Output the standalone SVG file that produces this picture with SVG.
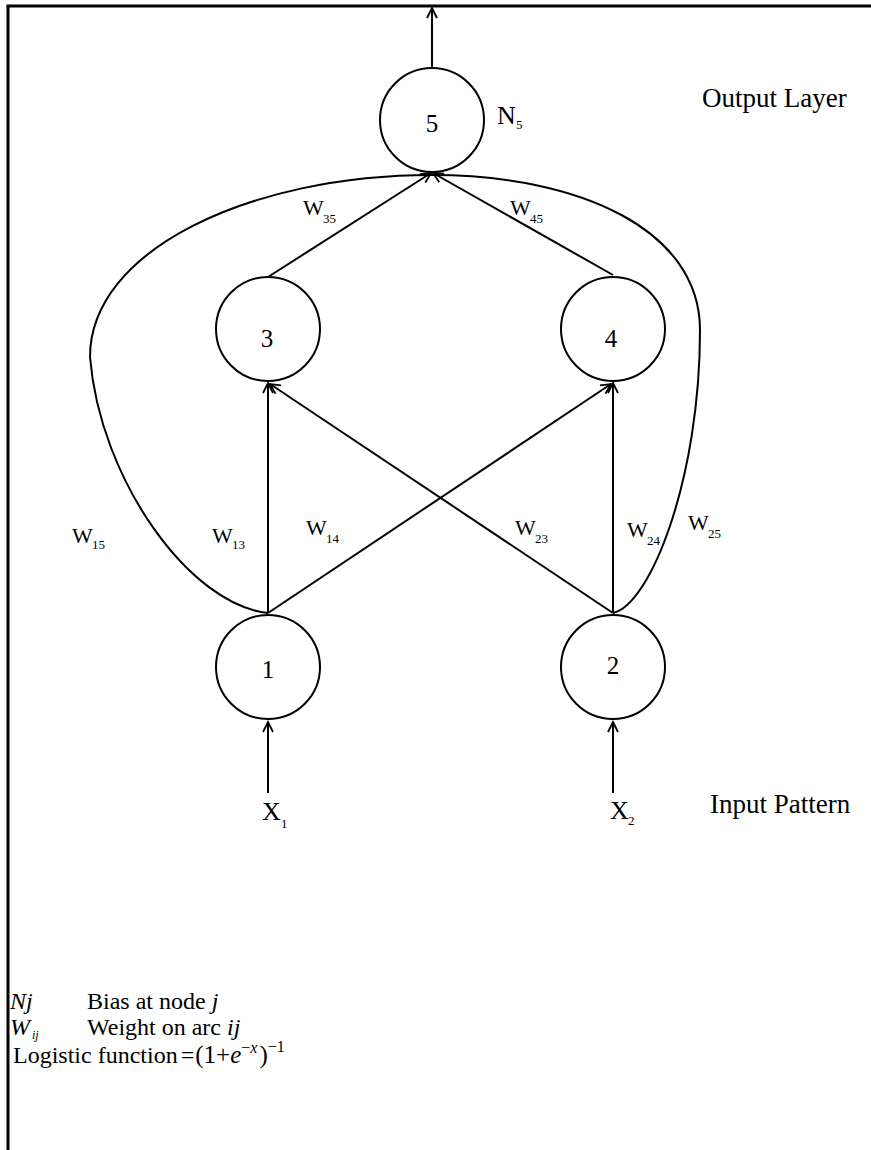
<svg xmlns="http://www.w3.org/2000/svg" width="871" height="1150" viewBox="0 0 871 1150">
<style>
text{font-family:"Liberation Serif","Times New Roman",serif;fill:#000}
.n{font-size:25px;text-anchor:middle}
.w{font-size:22px}
.s{font-size:13px}
.lbl{font-size:27px}
.lg{font-size:24px}
.i{font-style:italic}
circle{fill:#fff;stroke:#000;stroke-width:2}
.c line,.c path{stroke:#000;stroke-width:2;fill:none}
</style>
<defs>
<marker id="ah" markerUnits="userSpaceOnUse" markerWidth="14" markerHeight="14" refX="11" refY="6" orient="auto">
<path d="M1,1 L11,6 L1,11" fill="none" stroke="#000" stroke-width="1.8"/>
</marker>
</defs>
<rect width="871" height="1150" fill="#fff"/>
<g id="frame" stroke="#000" stroke-width="3">
<line x1="8" y1="6" x2="8" y2="1150"/>
<line x1="6.5" y1="6" x2="871" y2="6"/>
</g>
<g class="c" id="connectors">
<line x1="432" y1="68" x2="432" y2="8" marker-end="url(#ah)"/>
<path d="M268,613 C190,605 100,480 90,357 C90,250 250,175 432,175"/>
<path d="M613,613 C650,605 700,480 700,330 C700,230 580,175 432,175"/>
<line x1="268" y1="277" x2="431" y2="173" marker-end="url(#ah)"/>
<line x1="613" y1="275" x2="433" y2="173" marker-end="url(#ah)"/>
<line x1="268" y1="613" x2="268" y2="383" marker-end="url(#ah)"/>
<line x1="268" y1="613" x2="611" y2="384" marker-end="url(#ah)"/>
<line x1="613" y1="613" x2="270" y2="384" marker-end="url(#ah)"/>
<line x1="613" y1="613" x2="613" y2="383" marker-end="url(#ah)"/>
<line x1="268" y1="793" x2="268" y2="722" marker-end="url(#ah)"/>
<line x1="613" y1="793" x2="613" y2="722" marker-end="url(#ah)"/>
</g>
<g id="node5"><circle cx="432" cy="120" r="52"/><text class="n" x="432" y="132">5</text></g>
<g id="node3"><circle cx="268" cy="329" r="52"/><text class="n" x="267" y="347">3</text></g>
<g id="node4"><circle cx="613" cy="329" r="52"/><text class="n" x="611" y="347">4</text></g>
<g id="node1"><circle cx="268" cy="667" r="52"/><text class="n" x="268" y="678">1</text></g>
<g id="node2"><circle cx="613" cy="667" r="52"/><text class="n" x="613" y="674">2</text></g>
<g id="labels">
<text class="lbl" x="497" y="124" style="font-size:26px">N</text><text class="s" x="516" y="129">5</text>
<text class="lbl" x="702" y="107">Output Layer</text>
<text class="lbl" x="710" y="813">Input Pattern</text>
<text class="lbl" x="262" y="820" style="font-size:26px">X</text><text class="s" x="281" y="828">1</text>
<text class="lbl" x="610" y="819" style="font-size:26px">X</text><text class="s" x="628" y="825">2</text>
<text class="w" x="303" y="215">W</text><text class="s" x="323" y="223">35</text>
<text class="w" x="510" y="215">W</text><text class="s" x="530" y="223">45</text>
<text class="w" x="72" y="543">W</text><text class="s" x="92" y="549">15</text>
<text class="w" x="212" y="543">W</text><text class="s" x="232" y="549">13</text>
<text class="w" x="306" y="535">W</text><text class="s" x="326" y="543">14</text>
<text class="w" x="515" y="535">W</text><text class="s" x="535" y="543">23</text>
<text class="w" x="627" y="537">W</text><text class="s" x="647" y="545">24</text>
<text class="w" x="688" y="530">W</text><text class="s" x="708" y="538">25</text>
</g>
<g id="legend">
<text class="lg i" x="10" y="1009">Nj</text>
<text class="lg" x="87" y="1009">Bias at node <tspan class="i">j</tspan></text>
<text class="lg i" x="10" y="1035">W<tspan font-size="12" dx="2" dy="4">ij</tspan></text>
<text class="lg" x="87" y="1035">Weight on arc <tspan class="i">ij</tspan></text>
<text class="lg" x="13" y="1063">Logistic function<tspan dx="3">=</tspan><tspan dx="1" font-size="25">(1+</tspan><tspan font-size="25" class="i">e</tspan><tspan font-size="16" dy="-10">−</tspan><tspan font-size="16" class="i">x</tspan><tspan font-size="25" dx="2" dy="10">)</tspan><tspan font-size="16" dy="-11">−1</tspan></text>
</g>
</svg>
